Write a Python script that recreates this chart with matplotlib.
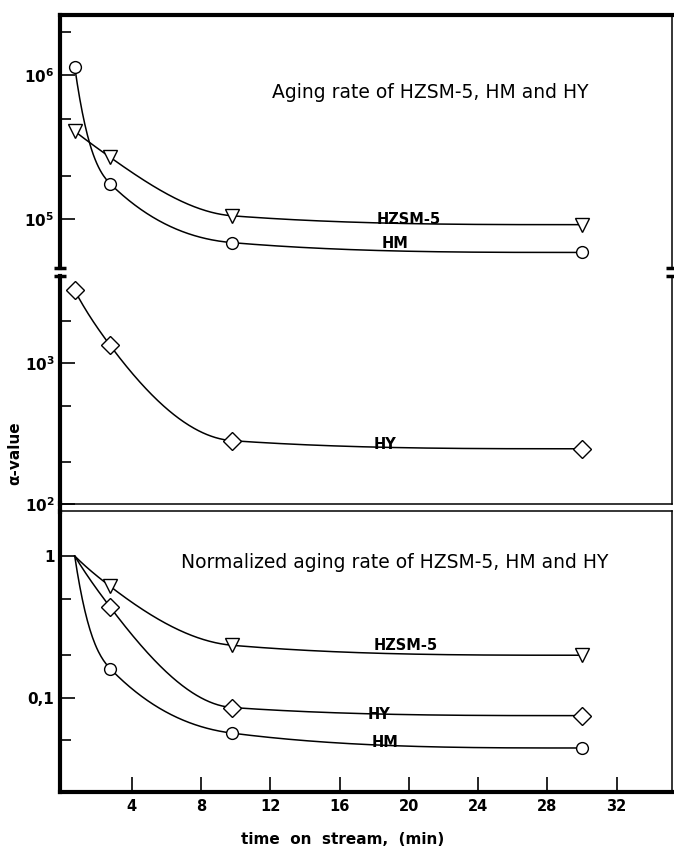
import numpy as np
import matplotlib
matplotlib.use("Agg")
import matplotlib.pyplot as plt
from matplotlib.lines import Line2D
from matplotlib.ticker import FixedLocator, NullFormatter

# time on stream (min)
times = [0.7, 2.75, 9.8, 30.0]

# aging rate (alpha-value)
hzsm5_alpha = [4.1e5, 2.7e5, 1.06e5, 9.2e4]
hm_alpha = [1.15e6, 1.77e5, 6.9e4, 5.9e4]
hy_alpha = [3300, 1340, 282, 247]

# normalized aging rate
hzsm5_norm = [1.0, 0.61, 0.234, 0.199]
hy_norm = [1.0, 0.435, 0.085, 0.0745]
hm_norm = [1.0, 0.16, 0.056, 0.044]

x_ticks = [4, 8, 12, 16, 20, 24, 28, 32]


def convex_hermite(x, y, xn):
    # cubic hermite through the points, slopes picked so a decaying
    # (convex) set of points gives a convex curve, flat at the end
    x = np.asarray(x, float)
    y = np.asarray(y, float)
    h = np.diff(x)
    d = np.diff(y) / h
    D = np.abs(d)
    n = len(x)
    m = np.zeros(n)
    m[-2] = 3 * D[-1]
    for k in range(n - 3, 0, -1):
        lo = max((3 * D[k] - m[k + 1]) / 2, 0)
        hi = min(3 * D[k] - 2 * m[k + 1], D[k - 1])
        m[k] = 0.5 * (lo + hi) if hi > lo else lo
    lo = (3 * D[0] - m[1]) / 2
    hi = 3 * D[0] - 2 * m[1]
    m[0] = lo + 0.75 * (hi - lo)
    m = m * np.sign(np.append(d, d[-1]))
    idx = np.clip(np.searchsorted(x, xn) - 1, 0, n - 2)
    t = (xn - x[idx]) / h[idx]
    h00 = 2 * t**3 - 3 * t**2 + 1
    h10 = t**3 - 2 * t**2 + t
    h01 = -2 * t**3 + 3 * t**2
    h11 = t**3 - t**2
    return h00 * y[idx] + h10 * h[idx] * m[idx] + h01 * y[idx + 1] + h11 * h[idx] * m[idx + 1]


def curve(ax, x, y, marker, ms, first_marker=True):
    xn = np.linspace(x[0], x[-1], 600)
    yn = 10 ** convex_hermite(x, np.log10(y), xn)
    ax.plot(xn, yn, color="black", lw=1.1, zorder=2)
    s = 0 if first_marker else 1
    ax.plot(x[s:], y[s:], linestyle="none", marker=marker, ms=ms,
            mfc="white", mec="black", mew=1.0, zorder=3)


W, H = 674, 852
fig = plt.figure(figsize=(W / 100, H / 100), dpi=100)
plt.rcParams["font.family"] = "DejaVu Sans"

left, right = 60 / W, 672 / W


def box(top, bottom):
    return [left, 1 - bottom / H, right - left, (bottom - top) / H]


ax1 = fig.add_axes(box(15, 268))
ax2 = fig.add_axes(box(276, 504))
ax3 = fig.add_axes(box(511, 792))

for ax in (ax1, ax2, ax3):
    ax.set_yscale("log")
    ax.set_xlim(-0.15, 35.2)
    ax.spines["left"].set_linewidth(3.0)
    ax.spines["right"].set_linewidth(1.1)
    ax.spines["top"].set_linewidth(1.1)
    ax.spines["bottom"].set_linewidth(1.1)
    ax.tick_params(axis="y", which="both", direction="in", left=True, right=False,
                   width=1.2, labelsize=11, pad=4)
    ax.tick_params(axis="y", which="major", length=11)
    ax.tick_params(axis="y", which="minor", length=8)
    ax.tick_params(axis="x", which="both", bottom=False, labelbottom=False)

# top panel
ax1.set_ylim(4.6e4, 2.63e6)
ax1.spines["top"].set_linewidth(3.0)
ax1.spines["bottom"].set_visible(False)
ax1.yaxis.set_major_locator(FixedLocator([1e5, 1e6]))
ax1.yaxis.set_minor_locator(FixedLocator([2e5, 5e5, 2e6]))
ax1.set_yticklabels([r"$\mathbf{10^{5}}$", r"$\mathbf{10^{6}}$"])
ax1.yaxis.set_minor_formatter(NullFormatter())
curve(ax1, times, hzsm5_alpha, "v", 10)
curve(ax1, times, hm_alpha, "o", 8.5)
ax1.text(20.0, 1.0e5, "HZSM-5", ha="center", va="center", fontsize=10.5, fontweight="bold")
ax1.text(19.2, 6.76e4, "HM", ha="center", va="center", fontsize=10.5, fontweight="bold")
ax1.text(272 / W, 1 - 92 / H, "Aging rate of HZSM-5, HM and HY", transform=fig.transFigure,
         ha="left", va="center", fontsize=13.5)

# middle panel
ax2.set_ylim(100, 4180)
ax2.spines["top"].set_visible(False)
ax2.yaxis.set_major_locator(FixedLocator([1e2, 1e3]))
ax2.yaxis.set_minor_locator(FixedLocator([2e2, 5e2, 2e3]))
ax2.set_yticklabels([r"$\mathbf{10^{2}}$", r"$\mathbf{10^{3}}$"])
ax2.yaxis.set_minor_formatter(NullFormatter())
curve(ax2, times, hy_alpha, "D", 9)
ax2.text(18.6, 264, "HY", ha="center", va="center", fontsize=10.5, fontweight="bold")

# bottom panel
ax3.set_ylim(0.0215, 2.08)
ax3.spines["bottom"].set_linewidth(3.0)
ax3.yaxis.set_major_locator(FixedLocator([0.1, 1]))
ax3.yaxis.set_minor_locator(FixedLocator([0.05, 0.2, 0.5]))
ax3.set_yticklabels(["0,1", "1"], fontweight="bold")
ax3.yaxis.set_minor_formatter(NullFormatter())
ax3.set_xticks(x_ticks)
ax3.tick_params(axis="x", which="major", bottom=True, labelbottom=True, direction="in",
                length=11, width=1.2, labelsize=10.5, pad=5)
for lab in ax3.get_xticklabels():
    lab.set_fontweight("bold")
curve(ax3, times, hzsm5_norm, "v", 10, first_marker=False)
curve(ax3, times, hy_norm, "D", 9, first_marker=False)
curve(ax3, times, hm_norm, "o", 8.5, first_marker=False)
ax3.text(19.8, 0.234, "HZSM-5", ha="center", va="center", fontsize=10.5, fontweight="bold")
ax3.text(18.3, 0.0758, "HY", ha="center", va="center", fontsize=10.5, fontweight="bold")
ax3.text(18.6, 0.048, "HM", ha="center", va="center", fontsize=10.5, fontweight="bold")
ax3.text(181 / W, 1 - 562 / H, "Normalized aging rate of HZSM-5, HM and HY",
         transform=fig.transFigure, ha="left", va="center", fontsize=13.5)

# break caps at the gap between top and middle panel
for ax, yy in ((ax1, 0), (ax2, 1)):
    for xx in (0, 1):
        ax.plot([xx - 0.01, xx + 0.01], [yy, yy], transform=ax.transAxes,
                color="black", lw=2.5, clip_on=False, solid_capstyle="butt")

# left spine runs on across the double line
fig.add_artist(Line2D([left, left], [1 - 512 / H, 1 - 503 / H], color="black", lw=3.0))

fig.text(15 / W, 1 - 453 / H, "\u03b1-value", rotation=90, ha="center", va="center",
         fontsize=11, fontweight="bold")
fig.text(343 / W, 1 - 840 / H, "time  on  stream,  (min)", ha="center", va="center",
         fontsize=11, fontweight="bold")

fig.savefig("out.png", dpi=100)
